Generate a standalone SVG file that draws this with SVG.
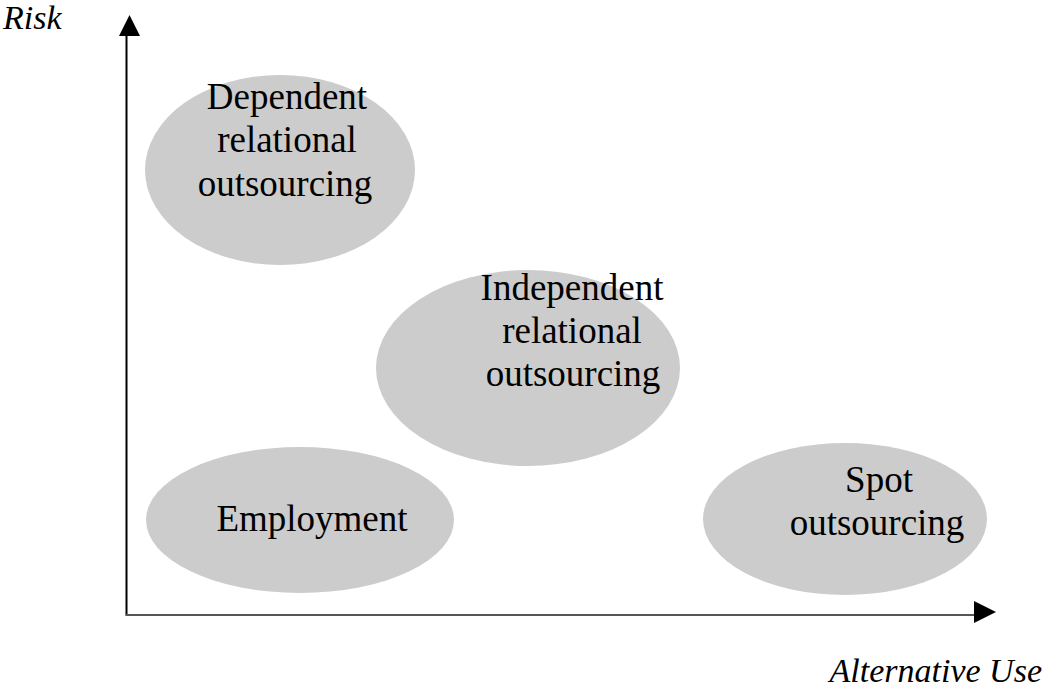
<svg xmlns="http://www.w3.org/2000/svg" width="1045" height="688" viewBox="0 0 1045 688">
<style>
.node ellipse{fill:#cccccc;stroke:none}
.lbl{font-family:"Liberation Serif","Times New Roman",serif;font-size:37px;fill:#000;text-anchor:middle}
.ax{font-family:"Liberation Serif","Times New Roman",serif;font-size:34px;font-style:italic;fill:#000}
</style>
<rect width="1045" height="688" fill="#fff"/>
<g id="connectors">
<line x1="126.5" y1="36" x2="126.5" y2="616" stroke="#000" stroke-width="2"/>
<line x1="126" y1="615" x2="975" y2="615" stroke="#555" stroke-width="2"/>
<polygon points="119,36 140,36 129.5,15" fill="#000"/>
<polygon points="974,601 974,623 996,612" fill="#000"/>
</g>
<g id="dependent" class="node">
<ellipse cx="280" cy="170" rx="135" ry="95"/>
<text class="lbl" x="287" y="109">Dependent</text>
<text class="lbl" x="287" y="152">relational</text>
<text class="lbl" x="285" y="196">outsourcing</text>
</g>
<g id="independent" class="node">
<ellipse cx="528" cy="368" rx="152" ry="98"/>
<text class="lbl" x="572" y="300">Independent</text>
<text class="lbl" x="572" y="343">relational</text>
<text class="lbl" x="573" y="386">outsourcing</text>
</g>
<g id="employment" class="node">
<ellipse cx="300" cy="520" rx="154" ry="73"/>
<text class="lbl" x="312" y="531">Employment</text>
</g>
<g id="spot" class="node">
<ellipse cx="845" cy="519" rx="142" ry="76"/>
<text class="lbl" x="879" y="492">Spot</text>
<text class="lbl" x="877" y="535">outsourcing</text>
</g>
<g id="axis-labels">
<text class="ax" x="3" y="29">Risk</text>
<text class="ax" x="1042" y="682" text-anchor="end">Alternative Use</text>
</g>
</svg>
